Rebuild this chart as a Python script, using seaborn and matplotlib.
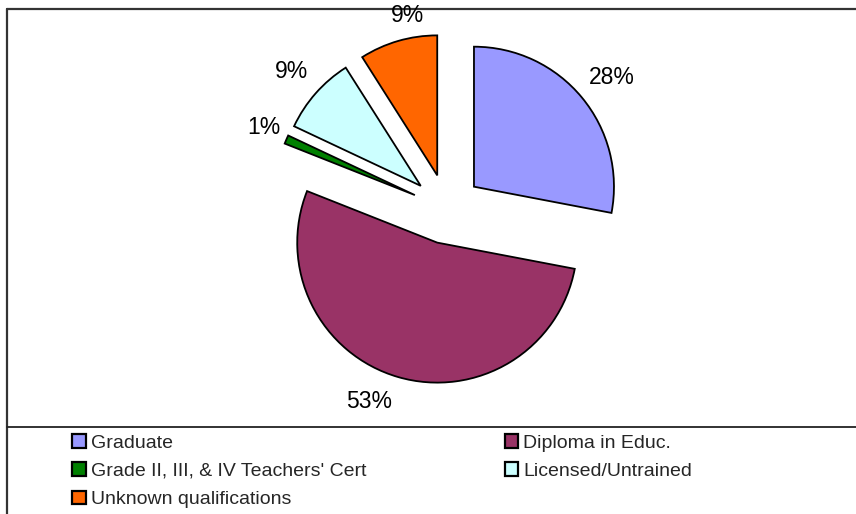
import matplotlib
matplotlib.use("Agg")
import matplotlib.pyplot as plt
import seaborn as sns
from matplotlib.lines import Line2D

categories = ["Graduate", "Diploma in Educ.", "Grade II, III, & IV Teachers' Cert",
              "Licensed/Untrained", "Unknown qualifications"]
values = [28, 53, 1, 9, 9]
colors = ["#9999FF", "#993366", "#008000", "#CCFFFF", "#FF6600"]

sns.set_theme(style="white")
plt.rcParams['font.family'] = ['Liberation Sans', 'DejaVu Sans']

W, H = 856, 514
fig = plt.figure(figsize=(W / 100, H / 100), dpi=100)
ax = fig.add_axes([0, 0, 1, 1])

R = 140
cx, cy = 447, H - 209
wedges, texts, autotexts = ax.pie(
    values, colors=sns.color_palette(colors), startangle=90, counterclock=False,
    radius=R, center=(cx, cy), explode=[35] * len(values),
    autopct=lambda p: f"{p:.0f}%", pctdistance=1.24,
    wedgeprops=dict(edgecolor="black", linewidth=1.3),
    textprops=dict(fontsize=16.5, color="black"))
# label placement (pixel positions, top-left origin)
label_pos = [(612, 77), (369, 401), (264, 128), (292, 72), (408, 15)]
for t, (px, py) in zip(autotexts, label_pos):
    t.set_position((px, H - py))
    t.set_va("center")
    t.set_ha("center")
ax.set_xlim(0, W)
ax.set_ylim(0, H)
ax.set_aspect('auto')
ax.axis('off')

# frame lines
fig.add_artist(Line2D([7 / W, 7 / W], [0, 1 - 9 / H], transform=fig.transFigure, color="#333333", lw=1.6))
fig.add_artist(Line2D([7 / W, 1], [1 - 9 / H, 1 - 9 / H], transform=fig.transFigure, color="#333333", lw=1.6, zorder=0))
fig.add_artist(Line2D([7 / W, 1], [1 - 427 / H, 1 - 427 / H], transform=fig.transFigure, color="#222222", lw=1.3))

order = [0, 2, 4, 1, 3]
handles = [wedges[i] for i in order]
labels = [categories[i] for i in order]
leg = fig.legend(handles, labels, ncol=2, loc="upper left",
                 bbox_to_anchor=(72 / W, 1 - 434 / H), frameon=False,
                 fontsize=14, handlelength=0.7, handleheight=0.7,
                 handletextpad=0.26, columnspacing=7.13, labelspacing=0.55,
                 borderpad=0, borderaxespad=0)
for h in leg.legend_handles:
    h.set_linewidth(1.6)

fig.savefig("out.png", dpi=100)
